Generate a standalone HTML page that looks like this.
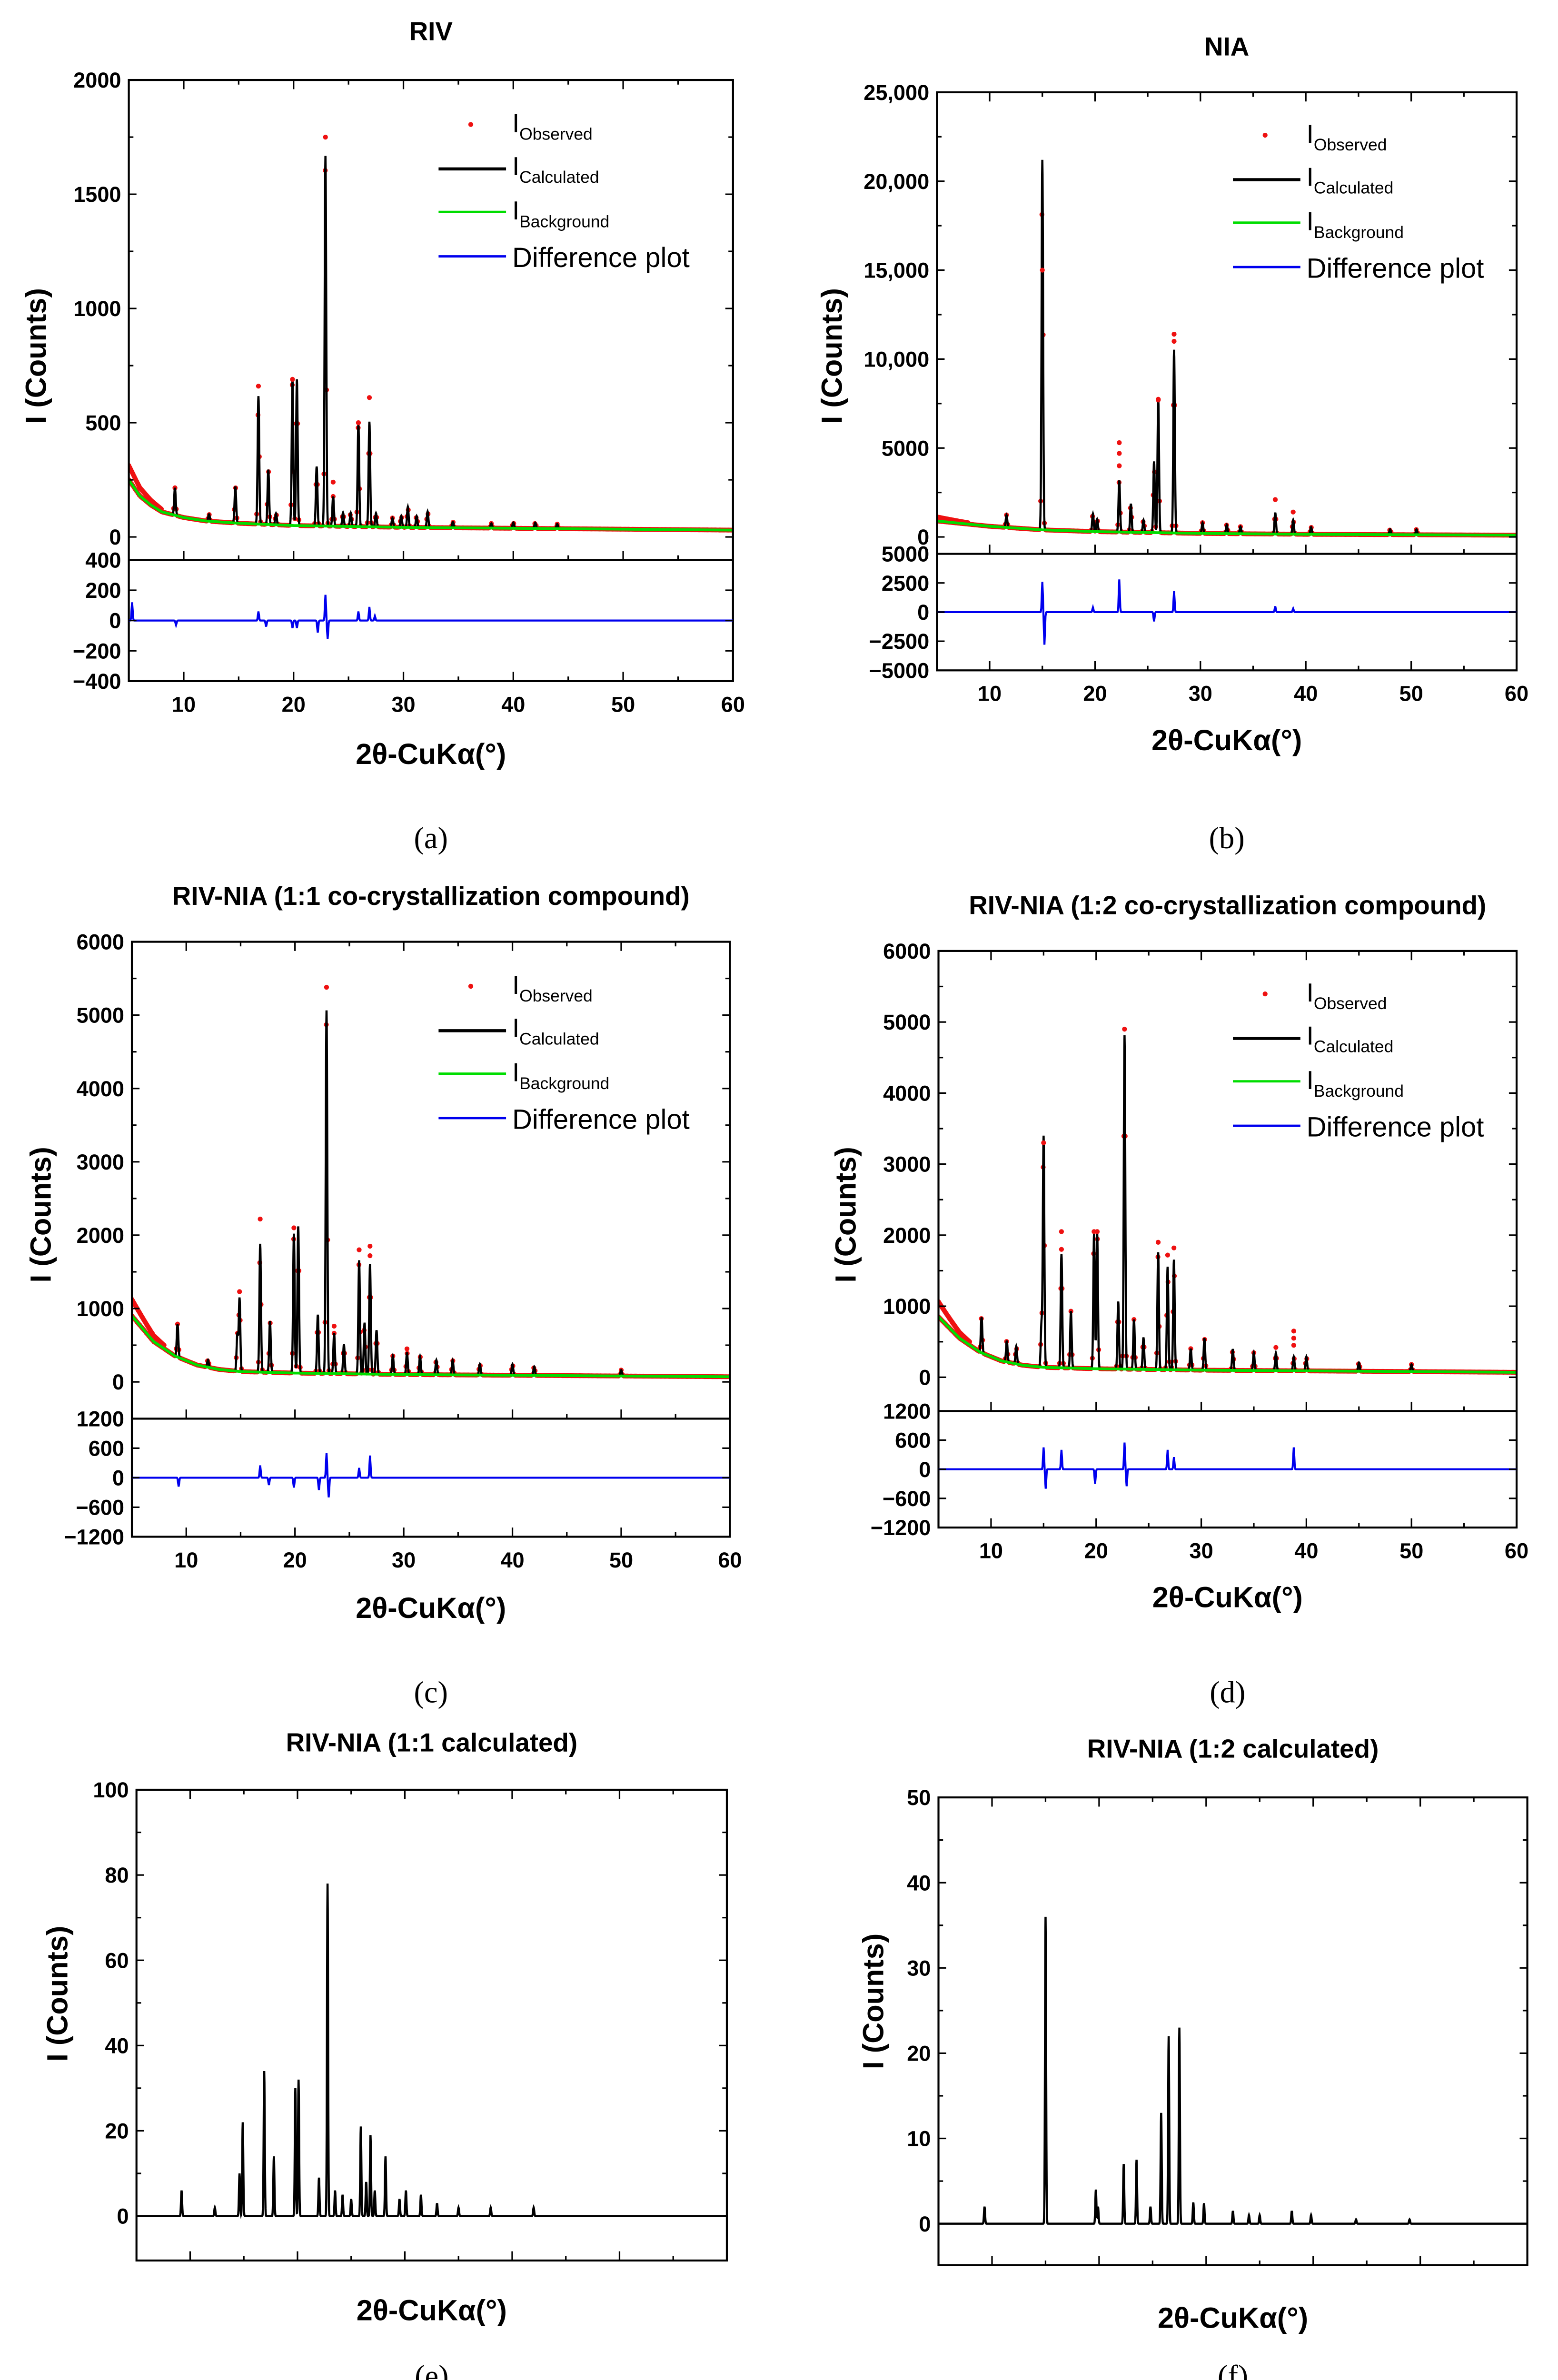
<!DOCTYPE html>
<html><head><meta charset="utf-8"><style>
html,body{margin:0;padding:0;background:#fff;width:3273px;height:5062px;overflow:hidden;}
svg{display:block;font-family:"Liberation Sans",Arial,sans-serif;}
</style></head><body>
<svg id="fig" xmlns="http://www.w3.org/2000/svg" width="3273" height="5062" viewBox="0 0 1016 1571">
<rect x="0" y="0" width="1016" height="1571" fill="#fff"/>
</svg>
<script>
// ---------- data ----------
const bgA_x=[5,6,7,8,10,12,15,20,30,40,60];
const bgA_y=[250,180,140,110,85,70,60,50,42,38,30];
const peaksA_pos=[9.2,12.3,14.7,16.8,17.7,18.4,19.9,20.3,22.1,22.9,23.6,24.5,25.2,25.9,26.9,27.5,29,29.8,30.4,31.2,32.2,34.5,38,40,42,44];
const peaksA_h=[120,30,160,560,240,50,640,640,260,1620,130,60,60,450,460,60,40,50,90,50,70,25,20,25,25,20];
const obsA_pos=[16.8,19.9,22.9,23.6,26.9,25.9];
const obsA_h=[660,690,1750,240,610,500];
const diffA_pos=[5.3,9.3,16.8,17.5,19.9,20.3,22.2,22.9,23.1,25.9,26.9,27.4];
const diffA_v=[120,-30,60,-40,-50,-50,-80,170,-120,60,90,30];

const bgB_x=[5,10,15,20,30,40,60];
const bgB_y=[900,600,400,300,200,150,100];
const peaksB_pos=[11.6,15.0,19.8,20.2,22.3,23.4,24.6,25.6,26.0,27.5,30.2,32.5,33.8,37.1,38.8,40.5,48,50.5];
const peaksB_h=[700,20800,1000,700,2900,1600,700,4000,7500,10300,600,500,400,1200,800,400,300,300];
const obsB_pos=[15.0,22.3,22.3,22.3,26,27.5,27.5,37.1,38.8];
const obsB_h=[15000,4000,4700,5300,7700,11000,11400,2100,1400];
const diffB_pos=[15.0,15.2,19.8,22.3,25.6,27.5,37.1,38.8];
const diffB_v=[2600,-2800,400,2800,-800,1800,500,300];

const bgC_x=[5,7,9,11,13,15,20,30,40,60];
const bgC_y=[900,550,350,230,170,140,120,100,90,70];
const peaksC_pos=[9.2,12,14.7,14.9,16.8,17.7,19.9,20.3,22.1,22.9,23.6,24.5,25.9,26.4,26.9,27.5,29,30.3,31.5,33,34.5,37,40,42,50];
const peaksC_h=[450,100,500,1000,1750,700,1900,2000,800,4950,550,400,1550,700,1500,600,250,300,250,200,200,150,150,120,80];
const obsC_pos=[16.8,14.9,19.9,22.9,25.9,26.9,26.9,23.6,30.3];
const obsC_h=[2220,1230,2100,5380,1800,1850,1720,760,450];
const diffC_pos=[9.3,16.8,17.6,19.9,22.2,22.9,23.1,25.9,26.9];
const diffC_v=[-180,250,-150,-200,-250,500,-400,200,450];

const bgD_x=[5,7,9,11,13,15,20,30,40,60];
const bgD_y=[850,550,350,230,170,140,120,100,90,70];
const peaksD_pos=[9.1,11.5,12.4,14.8,15.0,16.7,17.6,19.8,20.1,22.1,22.7,23.6,24.5,25.9,26.8,27.4,29,30.3,33,35,37.1,38.8,40,45,50];
const peaksD_h=[500,300,250,600,3250,1600,800,1900,1900,950,4700,700,450,1650,1450,1550,300,450,300,250,250,200,200,120,100];
const obsD_pos=[15.0,16.7,16.7,19.8,20.1,22.7,25.9,26.8,27.4,37.1,38.8,38.8,38.8];
const obsD_h=[3300,2050,1800,2050,2050,4900,1900,1720,1820,420,650,550,450];
const diffD_pos=[15.0,15.2,16.7,19.9,22.7,22.9,26.8,27.4,38.8];
const diffD_v=[450,-400,400,-300,550,-350,400,250,450];

const peaksE_pos=[9.2,12.3,14.6,14.9,16.9,17.8,19.8,20.1,22.0,22.8,23.5,24.2,25.0,25.9,26.4,26.8,27.2,28.2,29.5,30.1,31.5,33,35,38,42];
const peaksE_h=[6,2,10,22,34,14,30,32,9,78,6,5,4,21,8,19,6,14,4,6,5,3,2,2,2];
const peaksF_pos=[9.3,15.0,19.7,19.9,22.3,23.5,24.8,25.8,26.5,27.5,28.8,29.8,32.5,34,35,38,39.8,44,49];
const peaksF_h=[2,36,4,2,7,7.5,2,13,22,23,2.5,2.4,1.5,1,1,1.5,1,0.5,0.5];

// ---------- helpers ----------
const svg=document.getElementById('fig');
const NS='http://www.w3.org/2000/svg';
function mk(tag,attrs,parent){const e=document.createElementNS(NS,tag);for(const k in attrs)e.setAttribute(k,attrs[k]);(parent||svg).appendChild(e);return e;}
function txt(x,y,s,size,anchor,weight,parent){const t=mk('text',{x:x,y:y,'font-size':size,'text-anchor':anchor||'middle','font-weight':weight||'normal',fill:'#000'},parent);t.textContent=s;return t;}
function interp(xs,ys,x){if(x<=xs[0])return ys[0];for(let i=1;i<xs.length;i++){if(x<=xs[i]){const f=(x-xs[i-1])/(xs[i]-xs[i-1]);return ys[i-1]+f*(ys[i]-ys[i-1]);}}return ys[ys.length-1];}
function profile(bx,by,pp,ph,x,w){let v=bx?interp(bx,by,x):0;for(let i=0;i<pp.length;i++){const d=(x-pp[i])/w;if(Math.abs(d)<5)v+=ph[i]*Math.exp(-d*d);}return v;}

function panel(cfg){
  const g=mk('g',{});
  
  
  const X=v=>cfg.x0+(v-5)/(60-5)*(cfg.x1-cfg.x0);
  const Ym=v=>cfg.yz-(v/cfg.ymax)*(cfg.yz-cfg.ytop);
  const cid='clip'+cfg.name;
  const cp=mk('clipPath',{id:cid},g);mk('rect',{x:cfg.x0,y:cfg.ytop,width:cfg.x1-cfg.x0,height:cfg.mb-cfg.ytop},cp);
  const pg=mk('g',{'clip-path':'url(#'+cid+')'},g);
  const W=cfg.w||0.1;
  if(cfg.bx){
    // observed dots along profile
    const od=mk('g',{fill:'#ee1111'},pg);
    for(let x=5;x<=60;x+=0.12){const v=profile(cfg.bx,cfg.by,cfg.pp,cfg.ph,x,W);mk('circle',{cx:X(x).toFixed(2),cy:Ym(v).toFixed(2),r:1.6},od);}
    for(let x=5;x<=8;x+=0.08){mk('circle',{cx:X(x).toFixed(2),cy:Ym(interp(cfg.bx,cfg.by,x)*(1.25-0.05*(x-5))).toFixed(2),r:1.6},od);}
  }
  let d='';for(let x=5;x<=60;x+=0.02){d+=(d?'L':'M')+X(x).toFixed(2)+','+Ym(profile(cfg.bx,cfg.by,cfg.pp,cfg.ph,x,W)).toFixed(2);}
  const c=mk('path',{d:d,fill:'none',stroke:'#000','stroke-width':1.4},pg);
  if(cfg.bx){let db='';for(let x=5;x<=60;x+=0.25){db+=(db?'L':'M')+X(x).toFixed(2)+','+Ym(interp(cfg.bx,cfg.by,x)).toFixed(2);}
    const b=mk('path',{d:db,fill:'none',stroke:'#00dd00','stroke-width':1.8},pg);}
  if(cfg.op){for(let i=0;i<cfg.op.length;i++){const o=mk('circle',{cx:X(cfg.op[i]),cy:Ym(cfg.oh[i]),r:1.6,fill:'#ee1111'},pg);}}
  const bot=cfg.db||cfg.mb;
  const fr=mk('rect',{x:cfg.x0,y:cfg.ytop,width:cfg.x1-cfg.x0,height:bot-cfg.ytop,fill:'none',stroke:'#000','stroke-width':1.3},g);
  // y ticks main (inward, both sides, with minors)
  const ys=cfg.yt[1]-cfg.yt[0];
  for(let v=0;v<=cfg.ymax+1e-9;v+=ys/2){const y=Ym(v);const L=(Math.abs(v/ys-Math.round(v/ys))<1e-6)?5:3;
    mk('line',{x1:cfg.x0,x2:cfg.x0+L,y1:y,y2:y,stroke:'#000'},g);mk('line',{x1:cfg.x1-L,x2:cfg.x1,y1:y,y2:y,stroke:'#000'},g);}
  cfg.yt.forEach((v,i)=>{const y=Ym(v);const t=txt(cfg.x0-5,y+5,cfg.ytl[i],14,'end','bold',g);});
  if(cfg.db){
    mk('line',{x1:cfg.x0,x2:cfg.x1,y1:cfg.mb,y2:cfg.mb,stroke:'#000','stroke-width':1.3},g);
    const Yd=v=>(cfg.mb+cfg.db)/2-v/cfg.dmax*((cfg.db-cfg.mb)/2);
    let dd='';for(let x=5;x<=60;x+=0.05){let v=0;for(let i=0;i<cfg.dp.length;i++){const q=(x-cfg.dp[i])/0.07;if(Math.abs(q)<4)v+=cfg.dv[i]*Math.exp(-q*q);}dd+=(dd?'L':'M')+X(x).toFixed(2)+','+Yd(v).toFixed(2);}
    const dl=mk('path',{d:dd,fill:'none',stroke:'#0000ee','stroke-width':1.3},g);
    cfg.dt.forEach((v,i)=>{const y=Yd(v);mk('line',{x1:cfg.x0,x2:cfg.x0+5,y1:y,y2:y,stroke:'#000'},g);mk('line',{x1:cfg.x1-5,x2:cfg.x1,y1:y,y2:y,stroke:'#000'},g);const t=txt(cfg.x0-5,y+5,cfg.dtl[i],14,'end','bold',g);});
  }
  for(let v=5;v<=60;v+=5){const x=X(v);const L=(v%10===0)?6:3;
    mk('line',{x1:x,x2:x,y1:bot-L,y2:bot,stroke:'#000'},g);mk('line',{x1:x,x2:x,y1:cfg.ytop,y2:cfg.ytop+L,stroke:'#000'},g);
    if(cfg.db){mk('line',{x1:x,x2:x,y1:cfg.mb-L,y2:cfg.mb,stroke:'#000'},g);}
    if(cfg.xlabels&&v%10===0){const t=txt(x,bot+20,String(v),14,'middle','bold',g);}}
  const tt=txt((cfg.x0+cfg.x1)/2,cfg.titleY,cfg.title,17,'middle','bold',g);
  const xa=txt((cfg.x0+cfg.x1)/2,cfg.xtY,'2θ-CuKα(°)',19,'middle','bold',g);
  const ya=txt(0,0,'I (Counts)',19,'middle','bold',g);ya.setAttribute('transform','translate('+cfg.ytX+','+cfg.ytY+') rotate(-90)');
  const lb=txt((cfg.x0+cfg.x1)/2,cfg.labY,cfg.lab,20,'middle','normal',g);lb.setAttribute('font-family','Liberation Serif,serif');
  if(cfg.leg){const lx=cfg.leg[0],ly=cfg.leg[1],lg=mk('g',{},g);
    mk('circle',{cx:lx+21,cy:ly,r:1.6,fill:'#ee1111'},lg);
    mk('line',{x1:lx,x2:lx+44,y1:ly+29,y2:ly+29,stroke:'#000','stroke-width':2},lg);
    mk('line',{x1:lx,x2:lx+44,y1:ly+57,y2:ly+57,stroke:'#00dd00','stroke-width':1.5},lg);
    mk('line',{x1:lx,x2:lx+44,y1:ly+86,y2:ly+86,stroke:'#0000ee','stroke-width':1.5},lg);
    [['Observed',0],['Calculated',28],['Background',57]].forEach(a=>{const t=mk('text',{x:lx+48,y:ly+5+a[1],'font-size':17},lg);t.textContent='I';const s=mk('tspan',{'font-size':11,dy:5},t);s.textContent=a[0];});
    txt(lx+48,ly+93,'Difference plot',18,'start','normal',lg);}
}

panel({name:'panel-a-riv',x0:84,x1:478,ytop:52,yz:350,ymax:2000,mb:365,db:444,dmax:400,bx:bgA_x,by:bgA_y,pp:peaksA_pos,ph:peaksA_h,op:obsA_pos,oh:obsA_h,dp:diffA_pos,dv:diffA_v,
  yt:[0,500,1000,1500,2000],ytl:['0','500','1000','1500','2000'],dt:[400,200,0,-200,-400],dtl:['400','200','0','\u2212200','\u2212400'],xlabels:true,
  title:'RIV',titleY:26,xtY:498,ytX:30,ytY:232,lab:'(a)',labY:553,leg:[286,81]});
panel({name:'panel-b-nia',x0:611,x1:989,ytop:60,yz:350,ymax:25000,mb:361,db:437,dmax:5000,bx:bgB_x,by:bgB_y,pp:peaksB_pos,ph:peaksB_h,op:obsB_pos,oh:obsB_h,dp:diffB_pos,dv:diffB_v,
  yt:[0,5000,10000,15000,20000,25000],ytl:['0','5000','10,000','15,000','20,000','25,000'],dt:[5000,2500,0,-2500,-5000],dtl:['5000','2500','0','\u22122500','\u22125000'],xlabels:true,
  title:'NIA',titleY:36,xtY:489,ytX:549,ytY:232,lab:'(b)',labY:553,leg:[804,88]});
panel({name:'panel-c-11',x0:86,x1:476,ytop:614,yz:901,ymax:6000,mb:925,db:1002,dmax:1200,bx:bgC_x,by:bgC_y,pp:peaksC_pos,ph:peaksC_h,op:obsC_pos,oh:obsC_h,dp:diffC_pos,dv:diffC_v,
  yt:[0,1000,2000,3000,4000,5000,6000],ytl:['0','1000','2000','3000','4000','5000','6000'],dt:[1200,600,0,-600,-1200],dtl:['1200','600','0','\u2212600','\u22121200'],xlabels:true,
  title:'RIV-NIA (1:1 co-crystallization compound)',titleY:590,xtY:1055,ytX:33,ytY:792,lab:'(c)',labY:1110,leg:[286,643]});
panel({name:'panel-d-12',x0:612,x1:989,ytop:620,yz:898,ymax:6000,mb:920,db:996,dmax:1200,bx:bgD_x,by:bgD_y,pp:peaksD_pos,ph:peaksD_h,op:obsD_pos,oh:obsD_h,dp:diffD_pos,dv:diffD_v,
  yt:[0,1000,2000,3000,4000,5000,6000],ytl:['0','1000','2000','3000','4000','5000','6000'],dt:[1200,600,0,-600,-1200],dtl:['1200','600','0','\u2212600','\u22121200'],xlabels:true,
  title:'RIV-NIA (1:2 co-crystallization compound)',titleY:596,xtY:1048,ytX:558,ytY:792,lab:'(d)',labY:1110,leg:[804,648]});
panel({name:'panel-e-11-calc',x0:89,x1:474,ytop:1167,yz:1445,ymax:100,mb:1474,pp:peaksE_pos,ph:peaksE_h,w:0.07,
  yt:[0,20,40,60,80,100],ytl:['0','20','40','60','80','100'],xlabels:false,
  title:'RIV-NIA (1:1 calculated)',titleY:1142,xtY:1513,ytX:44,ytY:1300,lab:'(e)',labY:1556});
panel({name:'panel-f-12-calc',x0:612,x1:996,ytop:1172,yz:1450,ymax:50,mb:1477,pp:peaksF_pos,ph:peaksF_h,w:0.07,
  yt:[0,10,20,30,40,50],ytl:['0','10','20','30','40','50'],xlabels:false,
  title:'RIV-NIA (1:2 calculated)',titleY:1146,xtY:1518,ytX:576,ytY:1305,lab:'(f)',labY:1556});
</script>
</body></html>
